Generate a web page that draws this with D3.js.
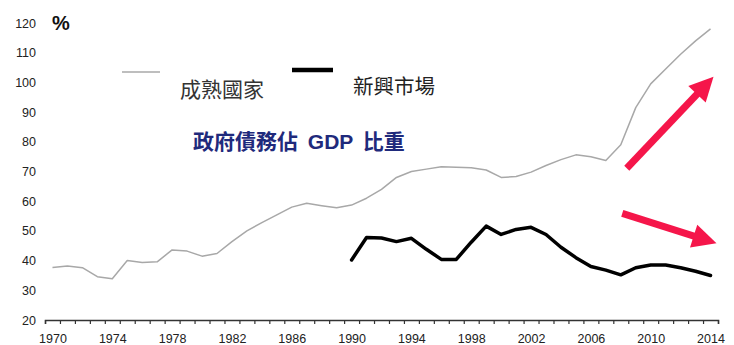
<!DOCTYPE html>
<html>
<head>
<meta charset="utf-8">
<script src="https://cdnjs.cloudflare.com/ajax/libs/d3/7.8.5/d3.min.js"></script>
<style>
  body { margin: 0; background: #fff; }
  svg { display: block; }
</style>
</head>
<body>
<div id="debt_chart"></div>
<script>
var years = [1970, 1971, 1972, 1973, 1974, 1975, 1976, 1977, 1978, 1979,
             1980, 1981, 1982, 1983, 1984, 1985, 1986, 1987, 1988, 1989,
             1990, 1991, 1992, 1993, 1994, 1995, 1996, 1997, 1998, 1999,
             2000, 2001, 2002, 2003, 2004, 2005, 2006, 2007, 2008, 2009,
             2010, 2011, 2012, 2013, 2014];

// 成熟國家
var matureDebt = [37.7, 38.2, 37.6, 34.6, 33.9, 40.0, 39.4, 39.6, 43.6, 43.2,
                  41.5, 42.4, 46.4, 50.0, 52.8, 55.4, 58.0, 59.3, 58.5, 57.8,
                  58.7, 61.0, 64.0, 68.0, 70.0, 70.8, 71.6, 71.4, 71.3, 70.5,
                  68.0, 68.3, 69.8, 72.0, 74.0, 75.6, 75.0, 73.7, 79.0, 91.5,
                  99.5, 104.5, 109.5, 114.0, 118.0];

// 新興市場 (starts 1990)
var emergingDebt = [null, null, null, null, null, null, null, null, null, null,
                    null, null, null, null, null, null, null, null, null, null,
                    40.2, 47.8, 47.6, 46.4, 47.5, 43.8, 40.4, 40.4, 46.2, 51.6,
                    48.8, 50.5, 51.2, 48.8, 44.5, 41.0, 38.0, 36.8, 35.2, 37.6,
                    38.5, 38.5, 37.6, 36.4, 35.0];

var yTicks = [20, 30, 40, 50, 60, 70, 80, 90, 100, 110, 120];
var xTickLabels = [1970, 1974, 1978, 1982, 1986, 1990, 1994, 1998, 2002, 2006, 2010, 2014];

// arrows: [yearFrom, valueFrom, yearTo, valueTo]
var arrows = [[2008.4, 71.1, 2014.2, 101.9],
              [2008.1, 55.9, 2014.4, 45.8]];

var width = 734, height = 345;

var svg = d3.select("#debt_chart").append("svg")
    .attr("width", width)
    .attr("height", height);

var x = d3.scaleLinear()
    .domain([years[0] - 0.5, years[years.length - 1] + 0.5])
    .range([45, 718]);

var y = d3.scaleLinear()
    .domain([20, 120])
    .range([320, 23]);

// x axis: tick marks between years
var tickPos = years.map(function(yr) { return yr - 0.5; }).concat([years[years.length - 1] + 0.5]);
var xAxisG = svg.append("g")
    .attr("transform", "translate(0," + y(20) + ")")
    .call(d3.axisBottom(x).tickValues(tickPos).tickSize(4).tickSizeOuter(4).tickFormat(""));
xAxisG.select(".domain").attr("stroke", "#333").attr("stroke-width", 1.5);
xAxisG.selectAll(".tick line").attr("stroke", "#333").attr("stroke-width", 1.2);

// x labels
var xLabelG = svg.append("g")
    .attr("transform", "translate(0," + y(20) + ")")
    .call(d3.axisBottom(x).tickValues(xTickLabels).tickSize(0).tickPadding(14).tickFormat(d3.format("d")));
xLabelG.select(".domain").remove();
xLabelG.selectAll("text")
    .attr("font-family", "'Liberation Sans', Arial, sans-serif")
    .attr("font-size", 12.5)
    .attr("fill", "#222");

// y labels
var yAxisG = svg.append("g")
    .attr("transform", "translate(36,0)")
    .call(d3.axisLeft(y).tickValues(yTicks).tickSize(0).tickPadding(0));
yAxisG.select(".domain").remove();
yAxisG.selectAll("text")
    .attr("font-family", "'Liberation Sans', Arial, sans-serif")
    .attr("font-size", 12.5)
    .attr("fill", "#222");

svg.append("text")
    .attr("x", 52)
    .attr("y", 30)
    .attr("font-family", "'Liberation Sans', Arial, sans-serif")
    .attr("font-size", 20)
    .attr("font-weight", "bold")
    .attr("fill", "#111")
    .text("%");

// lines
var line = d3.line()
    .defined(function(d) { return d[1] != null; })
    .x(function(d) { return x(d[0]); })
    .y(function(d) { return y(d[1]); });

svg.append("path")
    .datum(years.map(function(yr, i) { return [yr, matureDebt[i]]; }))
    .attr("fill", "none")
    .attr("stroke", "#a8a8a8")
    .attr("stroke-width", 1.5)
    .attr("stroke-linejoin", "round")
    .attr("d", line);

svg.append("path")
    .datum(years.map(function(yr, i) { return [yr, emergingDebt[i]]; }))
    .attr("fill", "none")
    .attr("stroke", "#000")
    .attr("stroke-width", 3.5)
    .attr("stroke-linejoin", "round")
    .attr("stroke-linecap", "round")
    .attr("d", line);

// arrows
var arrowColor = "#f5164a";
arrows.forEach(function(a) {
    var x0 = x(a[0]), y0 = y(a[1]), x1 = x(a[2]), y1 = y(a[3]);
    var dx = x1 - x0, dy = y1 - y0, len = Math.sqrt(dx * dx + dy * dy);
    var ux = dx / len, uy = dy / len;
    var headLen = 24, headHalf = 12;
    var bx = x1 - ux * headLen, by = y1 - uy * headLen;
    svg.append("line")
        .attr("x1", x0).attr("y1", y0)
        .attr("x2", bx + ux * 2).attr("y2", by + uy * 2)
        .attr("stroke", arrowColor)
        .attr("stroke-width", 7);
    svg.append("polygon")
        .attr("points", [
            [x1, y1],
            [bx - uy * headHalf, by + ux * headHalf],
            [bx + uy * headHalf, by - ux * headHalf]
        ].map(function(p) { return p.join(","); }).join(" "))
        .attr("fill", arrowColor);
});

// legend
var legendFont = "'Noto Sans CJK TC', 'Noto Sans CJK SC', sans-serif";
svg.append("line")
    .attr("x1", 122).attr("x2", 160)
    .attr("y1", 72).attr("y2", 72)
    .attr("stroke", "#a8a8a8")
    .attr("stroke-width", 1.5);
svg.append("text")
    .attr("x", 180).attr("y", 90)
    .attr("dy", "0.35em")
    .attr("font-family", legendFont)
    .attr("font-size", 21)
    .attr("fill", "#333")
    .text("成熟國家");

svg.append("line")
    .attr("x1", 292).attr("x2", 333)
    .attr("y1", 70).attr("y2", 70)
    .attr("stroke", "#000")
    .attr("stroke-width", 4.5);
svg.append("text")
    .attr("x", 353).attr("y", 87)
    .attr("dy", "0.35em")
    .attr("font-family", legendFont)
    .attr("font-size", 20.5)
    .attr("fill", "#222")
    .text("新興市場");

svg.append("text")
    .attr("x", 193).attr("y", 142)
    .attr("dy", "0.35em")
    .attr("font-family", "'Liberation Sans', " + legendFont)
    .attr("font-size", 21)
    .attr("font-weight", "bold")
    .attr("word-spacing", 4)
    .attr("fill", "#1f2a7c")
    .text("政府債務佔 GDP 比重");
</script>
</body>
</html>
